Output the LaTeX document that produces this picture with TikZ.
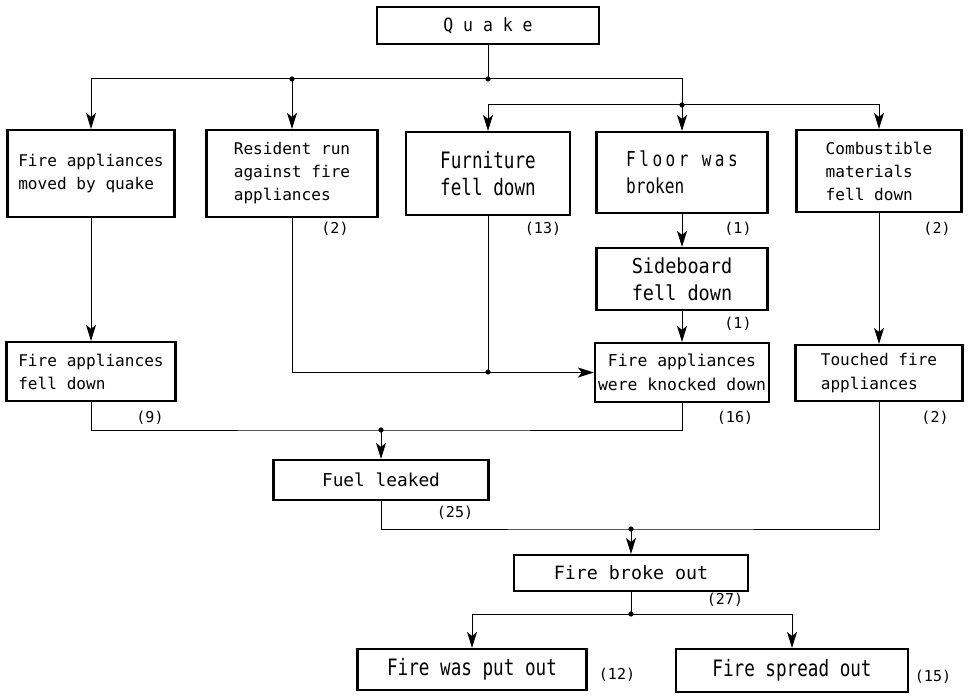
\documentclass[tikz,border=0pt]{standalone}
\usepackage{fontspec}
\newfontfamily\dfont{DejaVu Sans Mono}
\newfontfamily\cfont[FakeStretch=0.78]{DejaVu Sans Mono}
\newfontfamily\sfont[FakeStretch=0.9]{DejaVu Sans Mono}
\usetikzlibrary{arrows.meta}
\newcommand\smallf{\dfont\fontsize{16.1}{23}\selectfont}
\newcommand\bigf{\cfont\fontsize{22.6}{27}\selectfont}
\newcommand\labf{\dfont\fontsize{15}{18}\selectfont}
\tikzset{
  bx/.style={draw, line width=2.2pt, inner sep=0pt, align=left, font=\smallf},
  bigbx/.style={bx, font=\bigf},
  ln/.style={line width=1pt},
  ar/.style={ln, -{Stealth[length=16pt,width=10pt,inset=4pt]}},
  lab/.style={font=\labf, inner sep=0pt},
}
\begin{document}
\begin{tikzpicture}[x=1pt,y=-1pt]
\useasboundingbox (0,0) rectangle (973,695);
% boxes
\node[bx, minimum width=222pt, minimum height=37pt, align=center, font=\sfont\fontsize{18.3}{22}\selectfont] (Q) at (488,25.5) {Q u a k e};
\node[bx, minimum width=167pt, minimum height=87pt] (A) at (91,173.5) {Fire appliances\\moved by quake};
\node[bx, minimum width=171pt, minimum height=87pt] (B) at (292,173.5) {Resident run\\against fire\\appliances};
\node[bigbx, minimum width=164pt, minimum height=83pt] (C) at (488,173.5) {Furniture\\fell down};
\node[bx, minimum width=171pt, minimum height=81pt, font=\cfont\fontsize{20.6}{27}\selectfont] (D) at (682,172.5) {{\addfontfeature{LetterSpace=17}Floor was}\\broken};
\node[bx, minimum width=165pt, minimum height=82pt] (E) at (879,171) {Combustible\\materials\\fell down};
\node[bx, minimum width=171pt, minimum height=62pt, font=\sfont\fontsize{20.6}{27}\selectfont] (SB) at (682,279) {Sideboard\\fell down};
\node[bx, minimum width=174pt, minimum height=59pt, font=\dfont\fontsize{16.4}{24}\selectfont, align=center] (KD) at (682,372.5) {Fire appliances\\were knocked down};
\node[bx, minimum width=167pt, minimum height=56pt, font=\dfont\fontsize{16.1}{24}\selectfont] (TF) at (879,373) {Touched fire\\appliances};
\node[bx, minimum width=169pt, minimum height=59pt] (FD) at (91,371.5) {Fire appliances\\fell down};
\node[bx, minimum width=215pt, minimum height=40pt, font=\dfont\fontsize{17.8}{27}\selectfont] (FL) at (381,480) {Fuel leaked};
\node[bx, minimum width=234pt, minimum height=36pt, font=\dfont\fontsize{18.3}{27}\selectfont] (FB) at (631,573) {Fire broke out};
\node[bigbx, minimum width=229pt, minimum height=41pt] (PO) at (472,669.5) {Fire was put out};
\node[bigbx, minimum width=232pt, minimum height=43pt] (SP) at (792,670.5) {Fire spread out};
% junctions
\coordinate (J1) at (488,79);
\coordinate (J2) at (292,79);
\coordinate (J3) at (682,105);
\coordinate (J4) at (488,372);
\coordinate (J5) at (381,430);
\coordinate (J6) at (631,529);
\coordinate (J7) at (631,614);
% connectors
\draw[ln] (Q.south) -- (J1);
\draw[ar] (J1) -| (A.north);
\draw[ar] (J2) -- (B.north);
\draw[ln] (J1) -| (J3);
\draw[ar] (J3) -| (C.north);
\draw[ar] (J3) -- (D.north);
\draw[ar] (J3) -| (E.north);
\draw[ar] (A.south) -- (FD.north);
\draw[ar] (B.south) |- (KD.west);
\draw[ln] (C.south) -- (J4);
\draw[ar] (D.south) -- (SB.north);
\draw[ar] (SB.south) -- (KD.north);
\draw[ar] (E.south) -- (TF.north);
\draw[ln] (FD.south) |- (J5) -| (KD.south);
\draw[ar] (J5) -- (FL.north);
\draw[ln] (FL.south) |- (J6) -| (TF.south);
\draw[ar] (J6) -- (FB.north);
\draw[ln] (FB.south) -- (J7);
\draw[ar] (J7) -| (PO.north);
\draw[ar] (J7) -| (SP.north);
\foreach \j in {J1,J2,J3,J4,J5,J6,J7} \fill (\j) circle (2.6pt);
% labels
\node[lab] (l1) at (335,229) {(2)};
\node[lab] (l2) at (543,229) {(13)};
\node[lab] (l3) at (738,229) {(1)};
\node[lab] (l4) at (937,229) {(2)};
\node[lab] (l5) at (738,324) {(1)};
\node[lab] (l6) at (150,418) {(9)};
\node[lab] (l7) at (735,418) {(16)};
\node[lab] (l8) at (935,418) {(2)};
\node[lab] (l9) at (455,513) {(25)};
\node[lab] (l10) at (725,600) {(27)};
\node[lab] (l11) at (617,675) {(12)};
\node[lab] (l12) at (933,677) {(15)};
\end{tikzpicture}
\end{document}
